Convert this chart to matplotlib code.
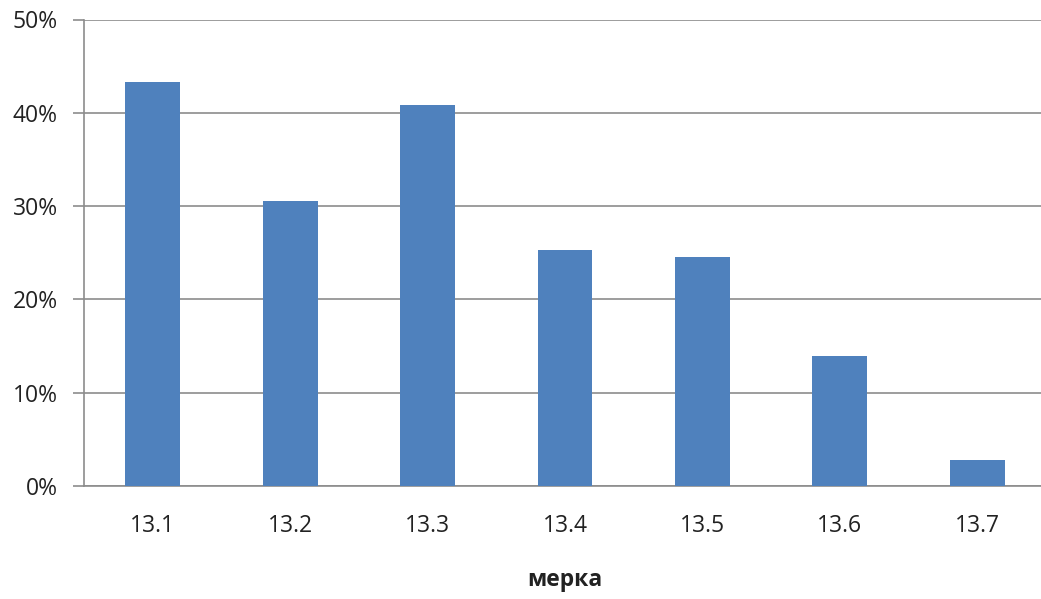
import matplotlib
matplotlib.use("Agg")
import matplotlib.pyplot as plt
from matplotlib.ticker import PercentFormatter

# values
categories = ["13.1", "13.2", "13.3", "13.4", "13.5", "13.6", "13.7"]
shares = [43.3, 30.6, 40.8, 25.3, 24.5, 13.9, 2.8]
y_ticks = [0, 10, 20, 30, 40, 50]

plt.rcParams['font.family'] = ['Open Sans', 'DejaVu Sans']

fig = plt.figure(figsize=(10.41, 5.99), dpi=100)
ax = fig.add_axes([84 / 1041, 1 - 486 / 599, (1046 - 84) / 1041, (486 - 19.5) / 599])

x = range(len(categories))
ax.bar(x, shares, width=0.4, color="#4F81BD", zorder=3)

ax.set_xlim(-0.5, len(categories) - 0.5)
ax.set_ylim(0, 50)
ax.set_yticks(y_ticks)
ax.yaxis.set_major_formatter(PercentFormatter(decimals=0))
ax.set_xticks(list(x))
ax.set_xticklabels(categories)

ax.grid(axis="y", color="#8c8c8c", linewidth=1.2, zorder=0)
for side in ["top", "right"]:
    ax.spines[side].set_visible(False)
ax.spines["left"].set_color("#8c8c8c")
ax.spines["bottom"].set_color("#8c8c8c")
ax.spines["left"].set_linewidth(1.2)
ax.spines["bottom"].set_linewidth(1.2)

ax.tick_params(axis="y", length=8, color="#8c8c8c", width=1.2, labelsize=16.5,
               labelcolor="#222222", pad=11)
ax.tick_params(axis="x", length=0, labelsize=16.5, labelcolor="#222222", pad=20)

ax.set_xlabel("мерка", fontsize=16.5, fontweight="bold", color="#222222", labelpad=22)

fig.savefig("out.png", dpi=100)
